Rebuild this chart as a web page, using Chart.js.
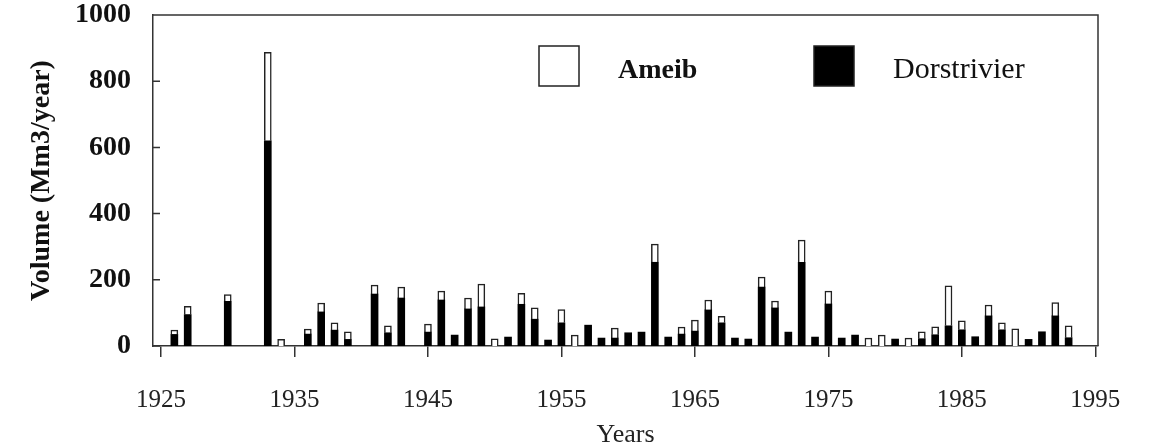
<!DOCTYPE html>
<html>
<head>
<meta charset="utf-8">
<script src="https://cdn.jsdelivr.net/npm/chart.js@4/dist/chart.umd.min.js"></script>
<style>
  html, body { margin: 0; padding: 0; background: #fff; }
  #wrap { width: 1149px; height: 448px; }
</style>
</head>
<body>
<div id="wrap"><canvas id="myChart" width="1149" height="448"></canvas></div>
<script>
// years with a recorded flow
var years = [1926, 1927, 1930, 1933, 1934, 1936, 1937, 1938, 1939, 1941, 1942, 1943,
  1945, 1946, 1947, 1948, 1949, 1950, 1951, 1952, 1953, 1954, 1955, 1956, 1957,
  1958, 1959, 1960, 1961, 1962, 1963, 1964, 1965, 1966, 1967, 1968, 1969, 1970,
  1971, 1972, 1973, 1974, 1975, 1976, 1977, 1978, 1979, 1980, 1981, 1982, 1983,
  1984, 1985, 1986, 1987, 1988, 1989, 1990, 1991, 1992, 1993];

// Dorstrivier (black, bottom of stack), Mm3/year
var dorstrivier = [35, 95, 135, 620, null, 36, 103, 48, 20, 157, 40, 145,
  42, 139, 33, 112, 118, null, 27, 126, 81, 18, 70, null, 63,
  24, 24, 40, 42, 253, 27, 36, 45, 109, 70, 24, 21, 178,
  115, 42, 253, 27, 127, 24, 33, null, null, 21, null, 22, 34,
  61, 49, 28, 91, 49, null, 20, 43, 91, 25];

// Ameib (white, top of stack), Mm3/year
var ameib = [13, 25, 20, 267, 20, 15, 27, 22, 23, 27, 21, 33,
  24, 27, null, 33, 69, 22, null, 33, 34, null, 40, 33, null,
  null, 30, null, null, 55, null, 21, 33, 30, 20, null, null, 30,
  21, null, 67, null, 39, null, null, 24, 33, null, 24, 21, 24,
  121, 27, null, 33, 21, 52, null, null, 40, 36];

var xTicks = [1925, 1935, 1945, 1955, 1965, 1975, 1985, 1995];
var yTicks = [0, 200, 400, 600, 800, 1000];

function toPoints(vals) {
  return years.map(function (yr, i) { return { x: yr, y: vals[i] }; });
}

// box around the plot, inward y ticks
var framePlugin = {
  id: 'frame',
  afterDraw: function (chart) {
    var ctx = chart.ctx, a = chart.chartArea, y = chart.scales.y;
    ctx.save();
    ctx.strokeStyle = '#333';
    ctx.lineWidth = 1.5;
    ctx.beginPath();
    ctx.moveTo(a.left, a.top);
    ctx.lineTo(a.right, a.top);
    ctx.lineTo(a.right, a.bottom);
    y.ticks.forEach(function (t) {
      var py = y.getPixelForValue(t.value);
      ctx.moveTo(a.left, py);
      ctx.lineTo(a.left + 7, py);
    });
    ctx.stroke();
    ctx.restore();
  }
};

// legend drawn inside the plot like the original figure
var boxLegend = {
  id: 'boxLegend',
  afterDraw: function (chart, args, opts) {
    var ctx = chart.ctx;
    ctx.save();
    chart.data.datasets.forEach(function (ds) {
      var p = opts.items[ds.label];
      if (!p) return;
      ctx.fillStyle = ds.backgroundColor;
      ctx.fillRect(p.x, p.y, 40, 40);
      ctx.strokeStyle = '#222';
      ctx.lineWidth = 1.5;
      ctx.strokeRect(p.x, p.y, 40, 40);
      ctx.fillStyle = '#111';
      ctx.font = p.font;
      ctx.textBaseline = 'alphabetic';
      ctx.fillText(ds.label, p.x + 79, p.y + 32);
    });
    ctx.restore();
  }
};

var ctx = document.getElementById('myChart').getContext('2d');
var myChart = new Chart(ctx, {
  type: 'bar',
  data: {
    datasets: [{
      label: 'Dorstrivier',
      data: toPoints(dorstrivier),
      backgroundColor: '#000',
      borderWidth: 0,
      barThickness: 7
    }, {
      label: 'Ameib',
      data: toPoints(ameib),
      backgroundColor: '#fff',
      borderColor: '#222',
      borderWidth: 1.5,
      barThickness: 7
    }]
  },
  plugins: [framePlugin, boxLegend],
  options: {
    responsive: false,
    animation: false,
    layout: { padding: { top: 2, right: 51, left: 0, bottom: 0 } },
    plugins: {
      legend: { display: false },
      tooltip: { enabled: false },
      boxLegend: {
        items: {
          'Ameib': { x: 539, y: 46, font: 'bold 28px "Liberation Serif"' },
          'Dorstrivier': { x: 814, y: 46, font: '30px "Liberation Serif"' }
        }
      }
    },
    scales: {
      x: {
        type: 'linear',
        stacked: true,
        offset: false,
        min: 1924.4,
        max: 1995.2,
        afterBuildTicks: function (scale) {
          scale.ticks = xTicks.map(function (v) { return { value: v }; });
        },
        afterFit: function (scale) { scale.height = 102; },
        grid: { offset: false, drawOnChartArea: false, drawTicks: true, tickLength: 11, color: '#333', lineWidth: 1.5 },
        border: { color: '#333', width: 1.5 },
        ticks: {
          padding: 28,
          color: '#222',
          font: { family: 'Liberation Serif', size: 25 },
          callback: function (v) { return String(v); }
        },
        title: {
          display: true,
          text: 'Years',
          color: '#222',
          font: { family: 'Liberation Serif', size: 26, lineHeight: 1 },
          padding: { top: 0, bottom: 0 }
        }
      },
      y: {
        stacked: true,
        min: 0,
        max: 1000,
        afterBuildTicks: function (scale) {
          scale.ticks = yTicks.map(function (v) { return { value: v }; });
        },
        afterFit: function (scale) {
          scale.width = 153;
          scale.paddingTop = 15;
        },
        grid: { display: false },
        border: { color: '#333', width: 1.5 },
        ticks: {
          padding: 14,
          color: '#111',
          font: { family: 'Liberation Serif', size: 28, weight: 'bold' },
          callback: function (v) { return String(v); }
        },
        title: {
          display: true,
          text: 'Volume (Mm3/year)',
          color: '#111',
          font: { family: 'Liberation Serif', size: 28, weight: 'bold', lineHeight: 1.2 },
          padding: { top: 25, bottom: 0 }
        }
      }
    }
  }
});
</script>
</body>
</html>
